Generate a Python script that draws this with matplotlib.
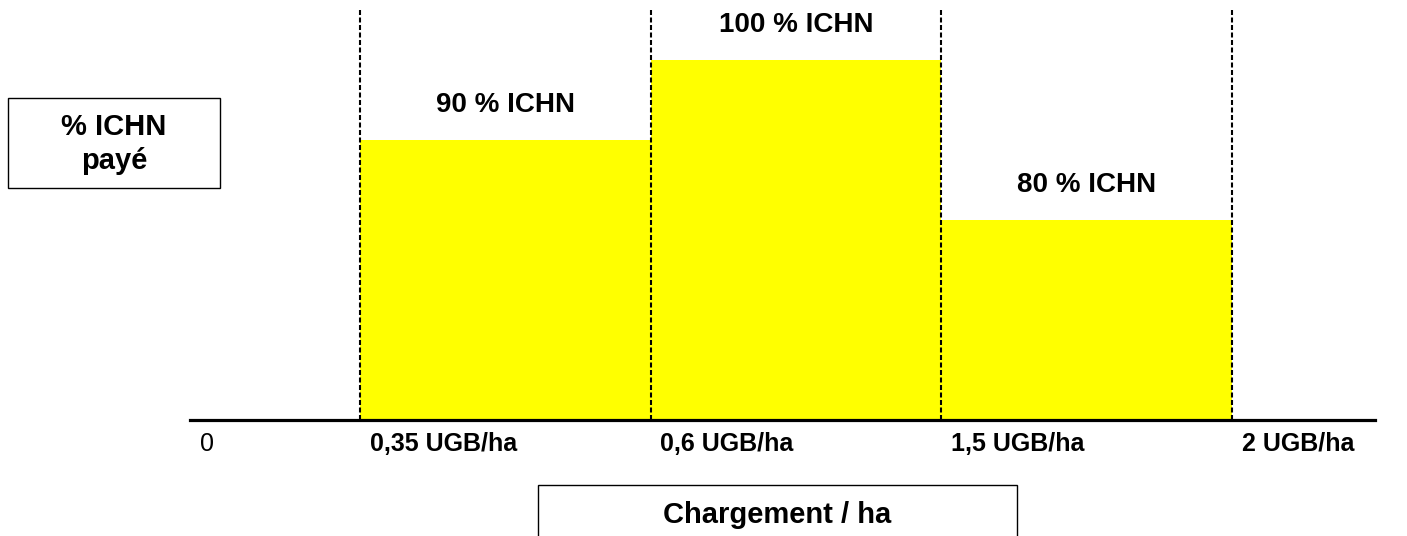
import matplotlib.pyplot as plt
from matplotlib.patches import Rectangle

plt.rcParams['font.family'] = ['Liberation Sans', 'DejaVu Sans']

# schematic bar heights (relative units) and labels
bar_labels = ["90 % ICHN", "100 % ICHN", "80 % ICHN"]
bar_heights = [7, 9, 5]
tick_labels = ["0", "0,35 UGB/ha", "0,6 UGB/ha", "1,5 UGB/ha", "2 UGB/ha"]

W, H = 1407, 536
fig = plt.figure(figsize=(W / 100, H / 100), dpi=100)

x0, x1 = 190, 1375
y_axis, y_top = 420, 10
ax = fig.add_axes([x0 / W, (H - y_axis) / H, (x1 - x0) / W, (y_axis - y_top) / H])

px_per_unit = (1232 - 360) / 3
xmin = -(360 - x0) / px_per_unit
xmax = 3 + (x1 - 1232) / px_per_unit
ymax = (y_axis - y_top) / 40
ax.set_xlim(xmin, xmax)
ax.set_ylim(0, ymax)

edges = list(range(len(bar_heights) + 1))
ax.bar(edges[:-1], bar_heights, width=1.0, align="edge", color="#ffff00", edgecolor="none")
for e in edges:
    ax.axvline(e, color="black", lw=1.5, linestyle=(0, (2.4, 1.2)))
ax.axhline(0, color="black", lw=2.3, clip_on=False)

for i, (lab, h) in enumerate(zip(bar_labels, bar_heights)):
    ax.annotate(lab, (i + 0.5, h), xytext=(0, 20), textcoords="offset points",
                ha="center", va="baseline", fontsize=20, fontweight="bold")

tick_pos = [xmin] + edges
for j, (p, lab) in enumerate(zip(tick_pos, tick_labels)):
    ax.annotate(lab, (p, 0), xytext=(7, -22), textcoords="offset points",
                ha="left", va="baseline", fontsize=18,
                fontweight="normal" if j == 0 else "bold", annotation_clip=False)

for s in ax.spines.values():
    s.set_visible(False)
ax.set_xticks([])
ax.set_yticks([])


# boxed axis titles
def box(xa, ya, xb, yb, lines, baselines, size):
    fig.patches.append(Rectangle((xa / W, 1 - yb / H), (xb - xa) / W, (yb - ya) / H,
                                 transform=fig.transFigure, fill=False,
                                 edgecolor="black", lw=1.0))
    for txt, yb_ in zip(lines, baselines):
        fig.text((xa + xb) / 2 / W, 1 - yb_ / H, txt, ha="center", va="baseline",
                 fontsize=size, fontweight="bold")


box(8, 98, 220, 188, ["% ICHN", "payé"], [135, 169], 21)
box(538, 485, 1017, 545, ["Chargement / ha"], [523], 21)

fig.savefig("out.png", dpi=100)
